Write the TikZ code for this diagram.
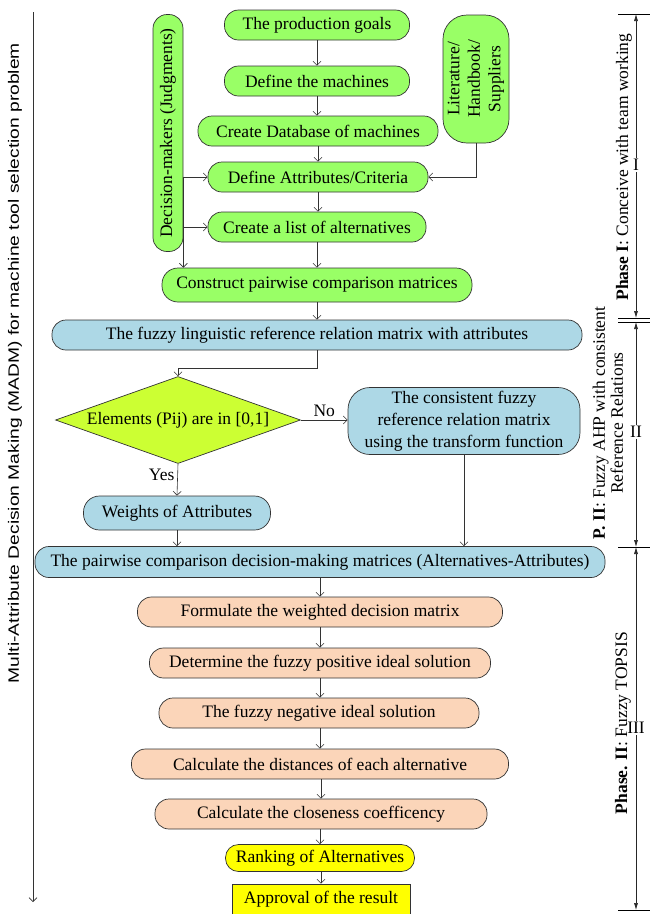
\documentclass[tikz,border=0pt]{standalone}
\usepackage{fontspec}
\setmainfont{Liberation Serif}
\newfontfamily\leftfont{Liberation Sans}
\usetikzlibrary{arrows.meta,shapes.geometric,positioning,calc}
\definecolor{gr}{RGB}{153,255,102}
\definecolor{bl}{RGB}{173,216,230}
\definecolor{orn}{RGB}{251,213,185}
\definecolor{dia}{RGB}{204,255,51}
\definecolor{yl}{RGB}{255,255,0}
\tikzset{
  box/.style={draw=black!80, line width=0.7pt, rounded corners=14pt, inner sep=0pt,
    minimum height=30pt, align=center, font=\fontsize{17.5}{21}\selectfont},
  conn/.style={draw=black!80, line width=0.6pt},
  arr/.style={conn, -{Straight Barb[length=4pt,width=8pt]}},
  dimarr/.style={draw=black!85, line width=0.6pt, {Latex[length=7pt,width=4pt]}-{Latex[length=7pt,width=4pt]}},
  lbl/.style={inner sep=0pt, font=\fontsize{17.5}{21}\selectfont},
  tick/.style={draw=black, line width=0.8pt}
}
\begin{document}
\begin{tikzpicture}[x=1pt,y=-1pt]
\useasboundingbox (0,0) rectangle (650,914);
% top green boxes
\node[box,fill=gr,minimum width=185pt] (b1) at (317,25) {The production goals};
\node[box,fill=gr,minimum width=185pt] (b2) at (317,81) {Define the machines};
\node[box,fill=gr,minimum width=240pt] (b3) at (318,131) {Create Database of machines};
\node[box,fill=gr,minimum width=220pt] (b4) at (318,177) {Define Attributes/Criteria};
\node[box,fill=gr,minimum width=218pt] (b5) at (317,227) {Create a list of alternatives};
\node[box,fill=gr,minimum width=310pt,minimum height=34pt,rounded corners=16pt] (b6) at (317,285) {Construct pairwise comparison matrices};
\node[box,fill=gr,rotate=90,minimum width=237pt,minimum height=30pt] (dm) at (168,133) {Decision-makers (Judgments)};
\node[box,fill=gr,rotate=90,minimum width=128pt,minimum height=66pt,rounded corners=24pt,font=\fontsize{17.5}{20.5}\selectfont] (lit) at (476,79) {Literature/\\Handbook/\\Suppliers};
% blue section
\node[box,fill=bl,minimum width=530pt] (b7) at (317,335) {The fuzzy linguistic reference relation matrix with attributes};
\node[draw=black!80,line width=0.7pt,fill=dia,diamond,aspect=2.8,inner sep=0pt,minimum width=245pt,minimum height=87pt,font=\fontsize{17.5}{21}\selectfont] (dia) at (178,420) {Elements (Pij) are in [0,1]};
\node[box,fill=bl,minimum width=232pt,minimum height=67pt,rounded corners=22pt,font=\fontsize{17.5}{22}\selectfont] (cons) at (464,421) {The consistent fuzzy\\reference relation matrix\\using the transform function};
\node[box,fill=bl,minimum width=187pt,minimum height=34pt,rounded corners=16pt] (w) at (177,513) {Weights of Attributes};
\node[box,fill=bl,minimum width=570pt,minimum height=31pt] (b9) at (320,562) {The pairwise comparison decision-making matrices (Alternatives-Attributes)};
% orange section
\node[box,fill=orn,minimum width=365pt] (b10) at (320,612) {Formulate the weighted decision matrix};
\node[box,fill=orn,minimum width=341pt] (b11) at (320,663) {Determine the fuzzy positive ideal solution};
\node[box,fill=orn,minimum width=320pt] (b12) at (319,713) {The fuzzy negative ideal solution};
\node[box,fill=orn,minimum width=377pt] (b13) at (320,764) {Calculate the distances of each alternative};
\node[box,fill=orn,minimum width=332pt] (b14) at (321,814) {Calculate the closeness coefficency};
\node[box,fill=yl,minimum width=189pt,minimum height=27pt,rounded corners=13pt] (b15) at (320,858) {Ranking of Alternatives};
\node[box,fill=yl,minimum width=178pt,minimum height=30pt,rounded corners=0pt] (b16) at (321,899) {Approval of the result};
% connectors
\draw[arr] (b1) -- (b2);
\draw[arr] (b2) -- (b3.north -| b2);
\draw[arr] (b3) -- (b4);
\draw[arr] (b4) -- (b5.north -| b4);
\draw[arr] (b5) -- (b6.north -| b5);
\draw[arr] (dm.south |- b4.west) -- (b4.west);
\draw[arr] (dm.south |- b5.west) -- (b5.west);
\draw[arr] (dm.south |- b4.west) -- (dm.south |- b6.north);
\draw[arr] (lit.west) |- (b4.east);
\draw[arr] (b6.south -| b5) -- (b7.north -| b5);
\draw[arr] (b7.south -| b5) -- ++(0,18) -| (dia.north);
\draw[arr] (dia.east) -- node[lbl,above=3pt] {No} (cons.west |- dia.east);
\draw[arr] (dia.south) -- node[lbl,left=3pt,pos=0.35] {Yes} (w.north);
\draw[arr] (w.south) -- (b9.north -| w.south);
\draw[arr] (cons.south) -- (b9.north -| cons.south);
\draw[arr] (b9.south -| b10) -- (b10.north);
\draw[arr] (b10) -- (b11);
\draw[arr] (b11.south -| b10) -- (b12.north -| b10);
\draw[arr] (b12.south -| b10) -- (b13.north -| b10);
\draw[arr] (b13.south -| b14) -- (b14.north);
\draw[arr] (b14.south -| b15) -- (b15.north);
\draw[arr] (b15.south -| b16) -- (b16.north);
% left arrow and title
\coordinate (la) at (33,12);
\coordinate (lb) at (33,902);
\draw[arr] (la) -- (lb);
\node[rotate=90,inner sep=0pt,font=\leftfont\fontsize{15}{18}\selectfont] (title) at (15,363) {\resizebox{640pt}{\height}{Multi-Attribute Decision Making (MADM) for machine tool selection problem}};
% phase brackets
\coordinate (t1) at (636,14);
\coordinate (t2) at (636,318);
\coordinate (t3) at (636,322);
\coordinate (t4) at (636,547);
\coordinate (t5) at (636,910);
\foreach \c in {t1,t2,t3,t4,t5} \draw[tick] ($(\c)+(-18,0)$) -- ($(\c)+(14,0)$);
\draw[dimarr] (t1) -- (t2);
\draw[dimarr] (t3) -- (t4);
\draw[dimarr] (t4) -- (t5);
\node[lbl,fill=white,inner sep=1pt] (p1) at (636,165) {I};
\node[lbl,fill=white,inner sep=1pt] (p2) at (636,432) {II};
\node[lbl,fill=white,inner sep=1pt] (p3) at (636,728) {III};
\node[lbl,rotate=90] (ph1) at (624,167) {\textbf{Phase I}: Conceive with team working};
\node[lbl,rotate=90,align=center,font=\fontsize{17.5}{18}\selectfont] (ph2) at (608,423) {\textbf{P. II}: Fuzzy AHP with consistent\\Reference Relations};
\node[lbl,rotate=90] (ph3) at (623,723) {\textbf{Phase. II}: Fuzzy TOPSIS};
\end{tikzpicture}
\end{document}
